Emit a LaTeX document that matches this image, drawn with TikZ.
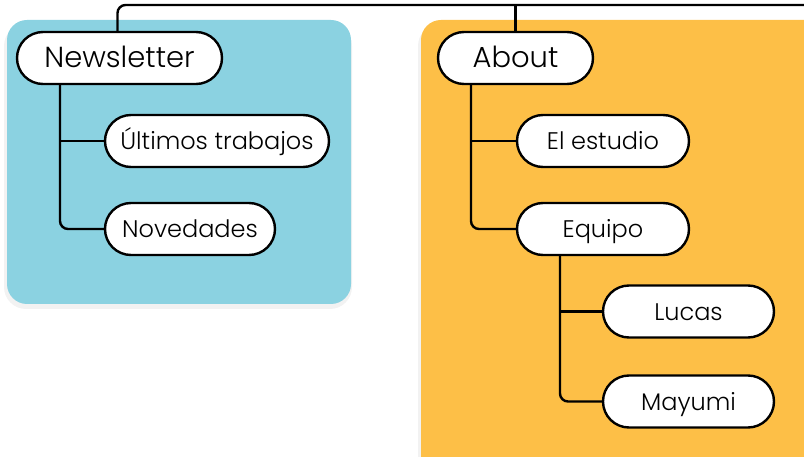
\documentclass[tikz,border=0pt]{standalone}
\usepackage{fontspec}
\setmainfont{Poppins}[UprightFont=* Light]
\usetikzlibrary{shapes.misc}
\definecolor{bluepanel}{HTML}{8BD2E1}
\definecolor{orangepanel}{HTML}{FDBF47}
\tikzset{
  pill/.style={draw=black, line width=2.4pt, fill=white, rounded rectangle, minimum height=52pt, inner sep=0pt, text height=18pt, text depth=0pt, font=\fontsize{24}{27}\selectfont},
  bigpill/.style={pill, text height=20pt, font=\fontsize{29}{33}\selectfont},
  link/.style={draw=black, line width=2.4pt, rounded corners=8pt},
  panel/.style={rounded corners=20pt},
  shade/.style={fill=black, opacity=0.05, rounded corners=22pt}
}
\begin{document}
\begin{tikzpicture}[x=1pt,y=-1pt]
\useasboundingbox (0,0) rectangle (804,457);
% shadows
\fill[shade] (4,24) rectangle (352,309);
\fill[shade] (418,24) rectangle (830,480);
% panels
\fill[bluepanel,panel] (7,20) rectangle (351,304);
\fill[orangepanel,panel] (421,20) rectangle (830,480);
% nodes
\node[bigpill, minimum width=205pt] (news) at (119.5,58) {Newsletter};
\node[pill, minimum width=224pt] (ult) at (217,141) {Últimos trabajos};
\node[pill, minimum width=170pt] (nov) at (190,229) {Novedades};
\node[bigpill, minimum width=155pt] (about) at (515.5,58) {About};
\node[pill, minimum width=172pt] (est) at (603,141) {El estudio};
\node[pill, minimum width=172pt] (equ) at (603,229) {Equipo};
\node[pill, minimum width=171pt] (luc) at (688.5,311.5) {Lucas};
\node[pill, minimum width=171pt] (may) at (688.5,401.5) {Mayumi};
\coordinate (root) at (810,5);
% connectors
\draw[link] (root) -| ([xshift=-2pt]news.north);
\draw[link] (about.north) -- (about.north |- root);
\draw[link] (news.south -| 60,0) |- (nov.west);
\draw[link] (60,0 |- ult.west) -- (ult.west);
\draw[link] (about.south -| 471,0) |- (equ.west);
\draw[link] (471,0 |- est.west) -- (est.west);
\draw[link] (equ.south -| 560,0) |- (may.west);
\draw[link] (560,0 |- luc.west) -- (luc.west);
\end{tikzpicture}
\end{document}
